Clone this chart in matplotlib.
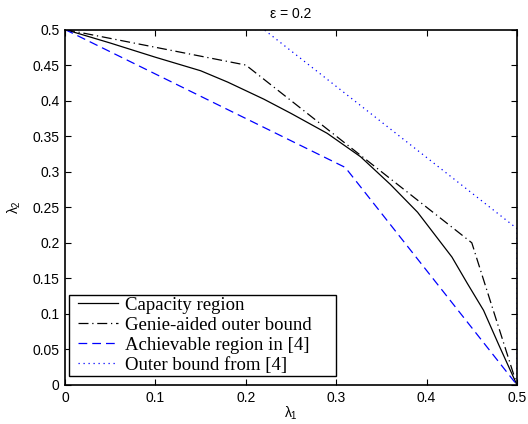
import matplotlib
matplotlib.use("Agg")
import numpy as np
import matplotlib.pyplot as plt
from matplotlib.lines import Line2D
from matplotlib.legend_handler import HandlerLine2D

cap_x = [0, 0.05, 0.1, 0.15, 0.18, 0.22, 0.25, 0.29, 0.327, 0.36, 0.39, 0.428, 0.445, 0.463, 0.48, 0.5]
cap_y = [0.5, 0.481, 0.461, 0.442, 0.426, 0.402, 0.382, 0.354, 0.321, 0.282, 0.243, 0.18, 0.143, 0.105, 0.056, 0]
genie_x = [0, 0.2, 0.45, 0.5]
genie_y = [0.5, 0.45, 0.2, 0]
ach_x = [0, 0.31, 0.5]
ach_y = [0.5, 0.306, 0]
outer_x = [0, 0.22, 0.5, 0.5]
outer_y = [0.5, 0.5, 0.22, 0]
labels = ["Capacity region", "Genie-aided outer bound", "Achievable region in [4]", "Outer bound from [4]"]
xticks = [0, 0.1, 0.2, 0.3, 0.4, 0.5]
yticks = [0, 0.05, 0.1, 0.15, 0.2, 0.25, 0.3, 0.35, 0.4, 0.45, 0.5]

plt.rcParams['font.family'] = ['Liberation Sans', 'DejaVu Sans']
plt.rcParams['mathtext.fontset'] = 'custom'
plt.rcParams['mathtext.rm'] = 'Liberation Sans'
plt.rcParams['mathtext.it'] = 'Liberation Sans'


class ShiftedLine(HandlerLine2D):
    def get_xdata(self, legend, xdescent, ydescent, width, height, fontsize):
        xdata, xm = super().get_xdata(legend, xdescent, ydescent, width, height, fontsize)
        xdata = np.array(xdata, dtype=float)
        xdata[0] += 5
        return xdata, xm


fig = plt.figure(figsize=(5.28, 4.24), dpi=100)
ax = fig.add_axes([65/528, 39/424, 452/528, 355.5/424])

lw = 0.9
ax.plot(cap_x, cap_y, color='black', linestyle='-', linewidth=lw, label=labels[0])
ax.plot(genie_x, genie_y, color='black', linestyle=(0, (8, 3, 1, 3)), linewidth=lw, label=labels[1])
ax.plot(ach_x, ach_y, color='blue', linestyle=(0, (7, 4)), linewidth=lw, label=labels[2])
ax.plot(outer_x, outer_y, color='blue', linestyle=(0, (1, 3)), linewidth=lw, label=labels[3])

ax.set_xlim(0, 0.5)
ax.set_ylim(0, 0.5)
ax.set_xticks(xticks)
ax.set_xticklabels(['0', '0.1', '0.2', '0.3', '0.4', '0.5'])
ax.set_yticks(yticks)
ax.set_yticklabels(['0', '0.05', '0.1', '0.15', '0.2', '0.25', '0.3', '0.35', '0.4', '0.45', '0.5'])
ax.tick_params(direction='in', top=True, right=True, labelsize=10, length=4, width=0.8, pad=4)
for s in ax.spines.values():
    s.set_linewidth(1.2)

ax.set_xlabel(r'$\lambda_1$', fontsize=10, labelpad=0)
ax.set_ylabel(r'$\lambda_2$', fontsize=10, labelpad=7)
ax.set_title('ε = 0.2', fontsize=10, pad=8)

leg = ax.legend(loc='lower left', bbox_to_anchor=(0.0095, 0.026, 0.590, 0.2), mode='expand',
                prop={'family': 'Liberation Serif', 'size': 13.5},
                frameon=True, fancybox=False, edgecolor='black', framealpha=1,
                borderpad=0.1, labelspacing=0.16, handlelength=2.5, handletextpad=0.36,
                borderaxespad=0, handler_map={Line2D: ShiftedLine()})
leg.get_frame().set_linewidth(1.0)

fig.savefig('out.png', dpi=100)
